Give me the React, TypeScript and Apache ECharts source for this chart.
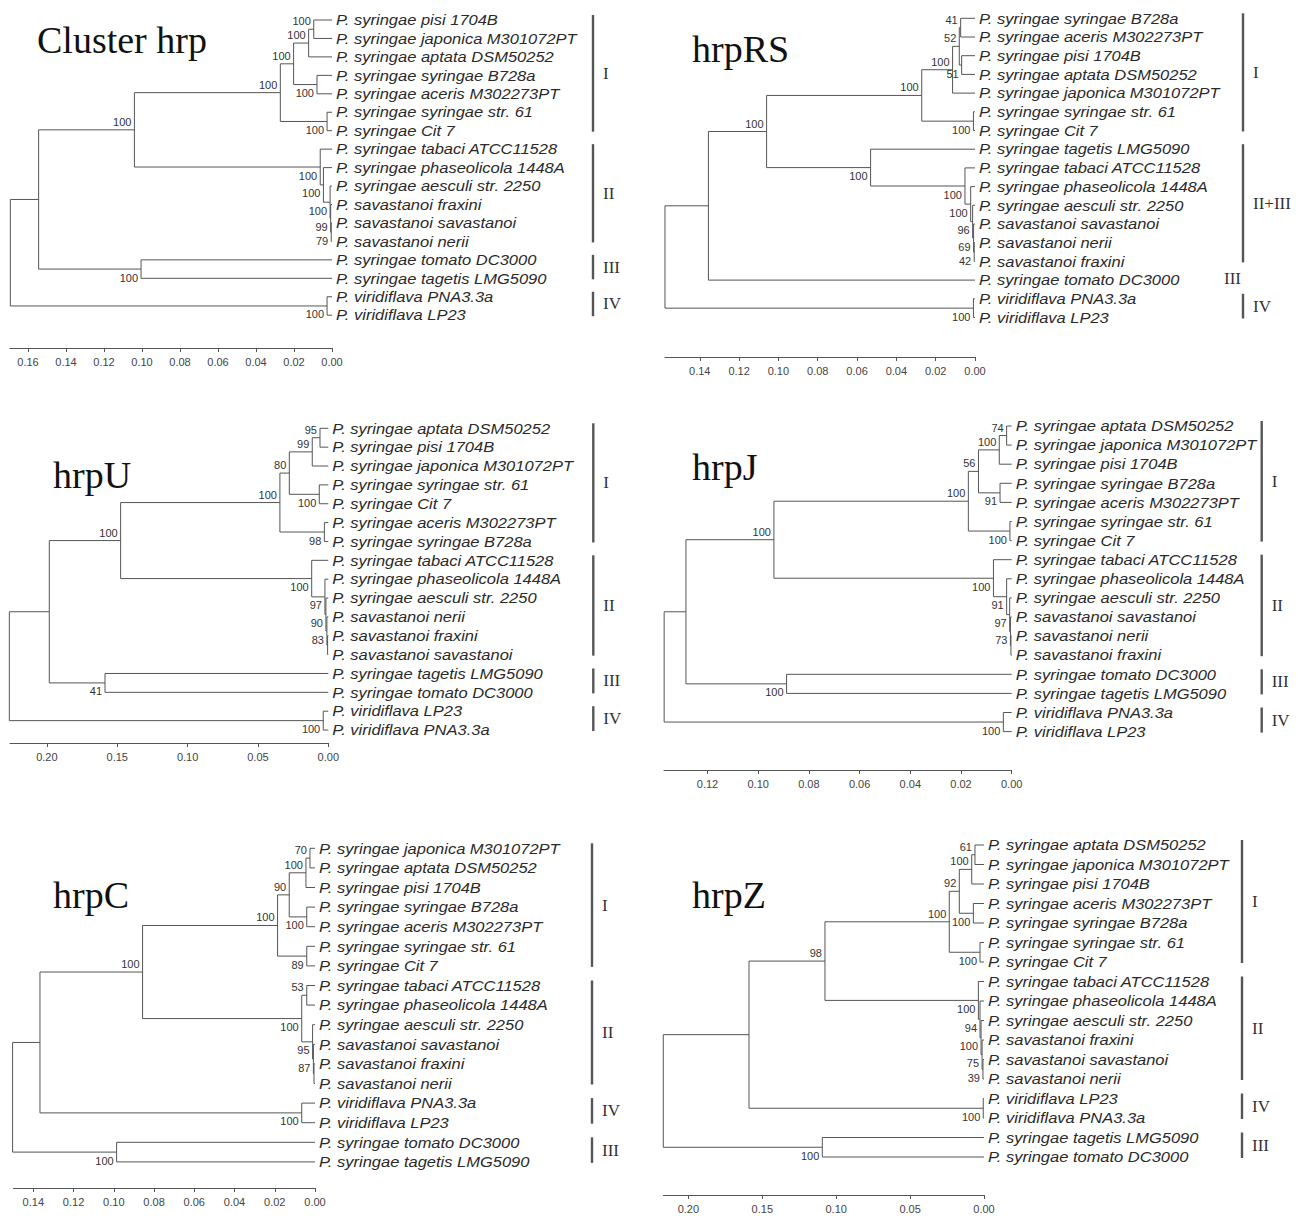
import React, { useEffect, useRef } from "react";
import * as echarts from "echarts";

// ---------------- DATA ----------------
const titles = ["Cluster hrp", "hrpRS", "hrpU", "hrpJ", "hrpC", "hrpZ"];

// Tree format: [height (distance from tips), bootstrap|null, child, child]; child = leaf index or subtree
const leavesHrp = [
  "P. syringae pisi 1704B",
  "P. syringae japonica M301072PT",
  "P. syringae aptata DSM50252",
  "P. syringae syringae B728a",
  "P. syringae aceris M302273PT",
  "P. syringae syringae str. 61",
  "P. syringae Cit 7",
  "P. syringae tabaci ATCC11528",
  "P. syringae phaseolicola 1448A",
  "P. syringae aesculi str. 2250",
  "P. savastanoi fraxini",
  "P. savastanoi savastanoi",
  "P. savastanoi nerii",
  "P. syringae tomato DC3000",
  "P. syringae tagetis LMG5090",
  "P. viridiflava PNA3.3a",
  "P. viridiflava LP23",
];
const treeHrp = [0.1693, null,
  [0.1544, null,
    [0.104, 100,
      [0.0272, 100,
        [0.0202, 100,
          [0.0123, 100, [0.0096, 100, 0, 1], 2],
          [0.0079, 100, 3, 4]],
        [0.0026, 100, 5, 6]],
      [0.0062, 100, 7, [0.0045, 100, 8, [0.001, 100, 9, [0.0007, 99, 10, [0.0004, 79, 11, 12]]]]]],
    [0.1005, 100, 13, 14]],
  [0.0026, 100, 15, 16]];
const cladesHrp = [["I", 0, 6], ["II", 7, 12], ["III", 13, 14], ["IV", 15, 16]];
const ticksHrp = [0, 0.02, 0.04, 0.06, 0.08, 0.1, 0.12, 0.14, 0.16];

const leavesRS = [
  "P. syringae syringae B728a",
  "P. syringae aceris M302273PT",
  "P. syringae pisi 1704B",
  "P. syringae aptata DSM50252",
  "P. syringae japonica M301072PT",
  "P. syringae syringae str. 61",
  "P. syringae Cit 7",
  "P. syringae tagetis LMG5090",
  "P. syringae tabaci ATCC11528",
  "P. syringae phaseolicola 1448A",
  "P. syringae aesculi str. 2250",
  "P. savastanoi savastanoi",
  "P. savastanoi nerii",
  "P. savastanoi fraxini",
  "P. syringae tomato DC3000",
  "P. viridiflava PNA3.3a",
  "P. viridiflava LP23",
];
const treeRS = [0.1577, null,
  [0.1356, null,
    [0.106, 100,
      [0.0271, 100,
        [0.0114, 100,
          [0.008, 52, [0.0073, 41, 0, 1], [0.0068, 51, 2, 3]],
          4],
        [0.0008, 100, 5, 6]],
      [0.0531, 100, 7,
        [0.0051, 100, 8, [0.0022, 100, 9, [0.0012, 96, 10, [0.0007, 69, 11, [0.0004, 42, 12, 13]]]]]]],
    14],
  [0.0008, 100, 15, 16]];
const cladesRS = [["I", 0, 6], ["II+III", 7, 13], ["III", 14, 14], ["IV", 15, 16]];
const ticksRS = [0, 0.02, 0.04, 0.06, 0.08, 0.1, 0.12, 0.14];

const leavesU = [
  "P. syringae aptata DSM50252",
  "P. syringae pisi 1704B",
  "P. syringae japonica M301072PT",
  "P. syringae syringae str. 61",
  "P. syringae Cit 7",
  "P. syringae aceris M302273PT",
  "P. syringae syringae B728a",
  "P. syringae tabaci ATCC11528",
  "P. syringae phaseolicola 1448A",
  "P. syringae aesculi str. 2250",
  "P. savastanoi nerii",
  "P. savastanoi fraxini",
  "P. savastanoi savastanoi",
  "P. syringae tagetis LMG5090",
  "P. syringae tomato DC3000",
  "P. viridiflava LP23",
  "P. viridiflava PNA3.3a",
];
const treeU = [0.2267, null,
  [0.1983, null,
    [0.1476, 100,
      [0.0344, 100,
        [0.0277, 80,
          [0.0114, 99, [0.0059, 95, 0, 1], 2],
          [0.0064, 100, 3, 4]],
        [0.0028, 98, 5, 6]],
      [0.0118, 100, 7, [0.0024, 97, 8, [0.0017, 90, 9, [0.001, 83, 10, [0.0005, null, 11, 12]]]]]],
    [0.1587, 41, 13, 14]],
  [0.0036, 100, 15, 16]];
const cladesU = [["I", 0, 6], ["II", 7, 12], ["III", 13, 14], ["IV", 15, 16]];
const ticksU = [0, 0.05, 0.1, 0.15, 0.2];

const leavesJ = [
  "P. syringae aptata DSM50252",
  "P. syringae japonica M301072PT",
  "P. syringae pisi 1704B",
  "P. syringae syringae B728a",
  "P. syringae aceris M302273PT",
  "P. syringae syringae str. 61",
  "P. syringae Cit 7",
  "P. syringae tabaci ATCC11528",
  "P. syringae phaseolicola 1448A",
  "P. syringae aesculi str. 2250",
  "P. savastanoi savastanoi",
  "P. savastanoi nerii",
  "P. savastanoi fraxini",
  "P. syringae tomato DC3000",
  "P. syringae tagetis LMG5090",
  "P. viridiflava PNA3.3a",
  "P. viridiflava LP23",
];
const treeJ = [0.1371, null,
  [0.1285, null,
    [0.0938, 100,
      [0.0171, 100,
        [0.0131, 56,
          [0.0049, 100, [0.002, 74, 0, 1], 2],
          [0.0046, 91, 3, 4]],
        [0.0007, 100, 5, 6]],
      [0.0072, 100, 7, [0.002, 91, 8, [0.0008, 97, 9, [0.0005, 73, 10, [0.0003, null, 11, 12]]]]]],
    [0.0888, 100, 13, 14]],
  [0.0033, 100, 15, 16]];
const cladesJ = [["I", 0, 6], ["II", 7, 12], ["III", 13, 14], ["IV", 15, 16]];
const ticksJ = [0, 0.02, 0.04, 0.06, 0.08, 0.1, 0.12];

const leavesC = [
  "P. syringae japonica M301072PT",
  "P. syringae aptata DSM50252",
  "P. syringae pisi 1704B",
  "P. syringae syringae B728a",
  "P. syringae aceris M302273PT",
  "P. syringae syringae str. 61",
  "P. syringae Cit 7",
  "P. syringae tabaci ATCC11528",
  "P. syringae phaseolicola 1448A",
  "P. syringae aesculi str. 2250",
  "P. savastanoi savastanoi",
  "P. savastanoi fraxini",
  "P. savastanoi nerii",
  "P. viridiflava PNA3.3a",
  "P. viridiflava LP23",
  "P. syringae tomato DC3000",
  "P. syringae tagetis LMG5090",
];
const treeC = [0.1503, null,
  [0.1367, null,
    [0.0857, 100,
      [0.0186, 100,
        [0.0128, 90,
          [0.0045, 100, [0.0025, 70, 0, 1], 2],
          [0.0041, 100, 3, 4]],
        [0.0041, 89, 5, 6]],
      [0.0066, 100, [0.0041, 53, 7, 8], [0.0012, 95, 9, [0.0008, 87, 10, [0.0005, null, 11, 12]]]]],
    [0.0066, 100, 13, 14]],
  [0.0986, 100, 15, 16]];
const cladesC = [["I", 0, 6], ["II", 7, 12], ["IV", 13, 14], ["III", 15, 16]];
const ticksC = [0, 0.02, 0.04, 0.06, 0.08, 0.1, 0.12, 0.14];

const leavesZ = [
  "P. syringae aptata DSM50252",
  "P. syringae japonica M301072PT",
  "P. syringae pisi 1704B",
  "P. syringae aceris M302273PT",
  "P. syringae syringae B728a",
  "P. syringae syringae str. 61",
  "P. syringae Cit 7",
  "P. syringae tabaci ATCC11528",
  "P. syringae phaseolicola 1448A",
  "P. syringae aesculi str. 2250",
  "P. savastanoi fraxini",
  "P. savastanoi savastanoi",
  "P. savastanoi nerii",
  "P. viridiflava LP23",
  "P. viridiflava PNA3.3a",
  "P. syringae tagetis LMG5090",
  "P. syringae tomato DC3000",
];
const treeZ = [0.217, null,
  [0.159, null,
    [0.1076, 98,
      [0.0235, 100,
        [0.0167, 92,
          [0.0083, 100, [0.0061, 61, 0, 1], 2],
          [0.0072, 100, 3, 4]],
        [0.0027, 100, 5, 6]],
      [0.0038, 100, 7, [0.0027, 94, 8, [0.002, 100, 9, [0.0013, 75, 10, [0.0007, 39, 11, 12]]]]]],
    [0.0005, 100, 13, 14]],
  [0.1094, 100, 15, 16]];
const cladesZ = [["I", 0, 6], ["II", 7, 12], ["IV", 13, 14], ["III", 15, 16]];
const ticksZ = [0, 0.05, 0.1, 0.15, 0.2];

// ---------------- LAYOUT / STYLE ----------------
// left/right: pixel extent of the distance axis, ppu: pixels per distance unit,
// top: first leaf row, gap: row spacing, axisY: axis line, bar: clade bar offset from tips
const layouts = [
  { left: 10, right: 332, ppu: 1900, top: 20, gap: 18.45, axisY: 348, bar: 261, tx: 37, ty: 53 },
  { left: 665, right: 975, ppu: 1966, top: 18.3, gap: 18.7, axisY: 357, bar: 268, tx: 692, ty: 62 },
  { left: 10, right: 328.3, ppu: 1407, top: 428.3, gap: 18.86, axisY: 743, bar: 265, tx: 53, ty: 488 },
  { left: 664, right: 1011.7, ppu: 2535, top: 426, gap: 19.1, axisY: 770, bar: 250, tx: 692, ty: 480 },
  { left: 13.3, right: 315, ppu: 2012, top: 848.3, gap: 19.6, axisY: 1188, bar: 277, tx: 53, ty: 908 },
  { left: 663.3, right: 984, ppu: 1478, top: 845, gap: 19.5, axisY: 1195, bar: 258, tx: 692, ty: 908 },
];

const SANS = '"Liberation Sans", Arial, Helvetica, sans-serif';
const SERIF = '"Liberation Serif", "Times New Roman", Times, serif';
const LINE = "#555";
const LEAF_FONT = `italic 15px ${SANS}`;
const LEAF_SCALE = 1.1;

const panels = [
  { leaves: leavesHrp, tree: treeHrp, clades: cladesHrp, ticks: ticksHrp },
  { leaves: leavesRS, tree: treeRS, clades: cladesRS, ticks: ticksRS },
  { leaves: leavesU, tree: treeU, clades: cladesU, ticks: ticksU },
  { leaves: leavesJ, tree: treeJ, clades: cladesJ, ticks: ticksJ },
  { leaves: leavesC, tree: treeC, clades: cladesC, ticks: ticksC },
  { leaves: leavesZ, tree: treeZ, clades: cladesZ, ticks: ticksZ },
];

function layoutTree(tree: any) {
  const segs: number[][] = [];
  const labs: number[][] = [];
  function walk(n: any, side: number): number[] {
    if (typeof n === "number") return [0, n];
    const h = n[0];
    const b = n[1];
    const kids = n.slice(2).map((k: any, i: number) => walk(k, i === 0 ? 0 : 1));
    const ys = kids.map((k: number[]) => k[1]);
    const yTop = Math.min(...ys);
    const yBot = Math.max(...ys);
    const y = (yTop + yBot) / 2;
    segs.push([h, yTop, h, yBot]);
    kids.forEach((k: number[]) => segs.push([h, k[1], k[0], k[1]]));
    if (b != null) labs.push([h, y, b, side]);
    return [h, y];
  }
  walk(tree, 0);
  return { segs, labs };
}

function buildOption() {
  const grid: any[] = [];
  const xAxis: any[] = [];
  const yAxis: any[] = [];
  const series: any[] = [];
  const graphic: any[] = [];

  panels.forEach((p, k) => {
    const L = layouts[k];
    const width = L.right - L.left;
    const height = (p.leaves.length - 1) * L.gap;
    grid.push({ left: L.left, top: L.top, width, height, containLabel: false });
    xAxis.push({
      type: "value",
      gridIndex: k,
      inverse: true,
      min: 0,
      max: width / L.ppu,
      position: "bottom",
      offset: L.axisY - (L.top + height),
      splitLine: { show: false },
      axisLine: { show: true, onZero: false, lineStyle: { color: LINE, width: 1 } },
      axisTick: { show: true, customValues: p.ticks, length: 4, lineStyle: { color: LINE } },
      axisLabel: {
        customValues: p.ticks,
        formatter: (v: number) => v.toFixed(2),
        color: "#444",
        fontSize: 11,
        fontFamily: SANS,
        margin: 8,
      },
    });
    yAxis.push({ type: "value", gridIndex: k, inverse: true, min: 0, max: p.leaves.length - 1, show: false });

    const { segs, labs } = layoutTree(p.tree);

    series.push({
      type: "custom",
      coordinateSystem: "cartesian2d",
      xAxisIndex: k,
      yAxisIndex: k,
      clip: false,
      silent: true,
      encode: { x: [0, 2], y: [1, 3] },
      data: segs,
      renderItem: (_params: any, api: any) => {
        const a = api.coord([api.value(0), api.value(1)]);
        const b = api.coord([api.value(2), api.value(3)]);
        return {
          type: "line",
          shape: { x1: a[0], y1: a[1], x2: b[0], y2: b[1] },
          style: { stroke: LINE, lineWidth: 1 },
        };
      },
    });

    series.push({
      type: "custom",
      coordinateSystem: "cartesian2d",
      xAxisIndex: k,
      yAxisIndex: k,
      clip: false,
      silent: true,
      data: labs,
      renderItem: (_params: any, api: any) => {
        const c = api.coord([api.value(0), api.value(1)]);
        const up = api.value(3) === 0;
        return {
          type: "text",
          x: c[0] - 3,
          y: c[1] + (up ? -8 : 8.5),
          style: {
            text: String(api.value(2)),
            fill: "#333333",
            fontSize: 11,
            fontFamily: SANS,
            align: "right",
            verticalAlign: "middle",
          },
        };
      },
    });

    const leaves = p.leaves;
    series.push({
      type: "custom",
      coordinateSystem: "cartesian2d",
      xAxisIndex: k,
      yAxisIndex: k,
      clip: false,
      silent: true,
      data: leaves.map((_n, i) => [0, i]),
      renderItem: (params: any, api: any) => {
        const c = api.coord([api.value(0), api.value(1)]);
        return {
          type: "text",
          x: c[0] + 4,
          y: c[1],
          scaleX: LEAF_SCALE,
          style: {
            text: leaves[params.dataIndex],
            fill: "#2a2a2a",
            font: LEAF_FONT,
            align: "left",
            verticalAlign: "middle",
          },
        };
      },
    });

    const clades = p.clades;
    series.push({
      type: "custom",
      coordinateSystem: "cartesian2d",
      xAxisIndex: k,
      yAxisIndex: k,
      clip: false,
      silent: true,
      data: clades.map((c: any) => [0, c[1], c[2]]),
      renderItem: (params: any, api: any) => {
        const c: any = clades[params.dataIndex];
        const a = api.coord([0, api.value(1)]);
        const b = api.coord([0, api.value(2)]);
        const bx = a[0] + L.bar;
        const single = c[1] === c[2];
        const children: any[] = [];
        if (!single) {
          children.push({
            type: "line",
            shape: { x1: bx, y1: a[1] - 5, x2: bx, y2: b[1] + 1 },
            style: { stroke: "#555", lineWidth: 2.4 },
          });
        }
        children.push({
          type: "text",
          x: single ? bx - 2 : bx + 10,
          y: (a[1] + b[1]) / 2 - 2,
          style: {
            text: c[0],
            fill: "#333",
            font: `17px ${SERIF}`,
            align: single ? "right" : "left",
            verticalAlign: "middle",
          },
        });
        return { type: "group", children };
      },
    });

    graphic.push({
      type: "text",
      x: L.tx,
      y: L.ty - 13,
      silent: true,
      style: {
        text: titles[k],
        fill: "#111",
        font: `38px ${SERIF}`,
        textAlign: "left",
        textVerticalAlign: "middle",
      },
    });
  });

  return {
    animation: false,
    backgroundColor: "#fff",
    grid,
    xAxis,
    yAxis,
    series,
    graphic,
  };
}

export default function App() {
  const ref = useRef<HTMLDivElement>(null);
  useEffect(() => {
    const chart = echarts.init(ref.current as HTMLDivElement, undefined, { renderer: "svg" });
    chart.setOption(buildOption() as any);
    return () => chart.dispose();
  }, []);
  return (
    <div
      ref={ref}
      style={{ position: "absolute", left: 0, top: 0, width: 1306, height: 1218, background: "#fff" }}
    />
  );
}
